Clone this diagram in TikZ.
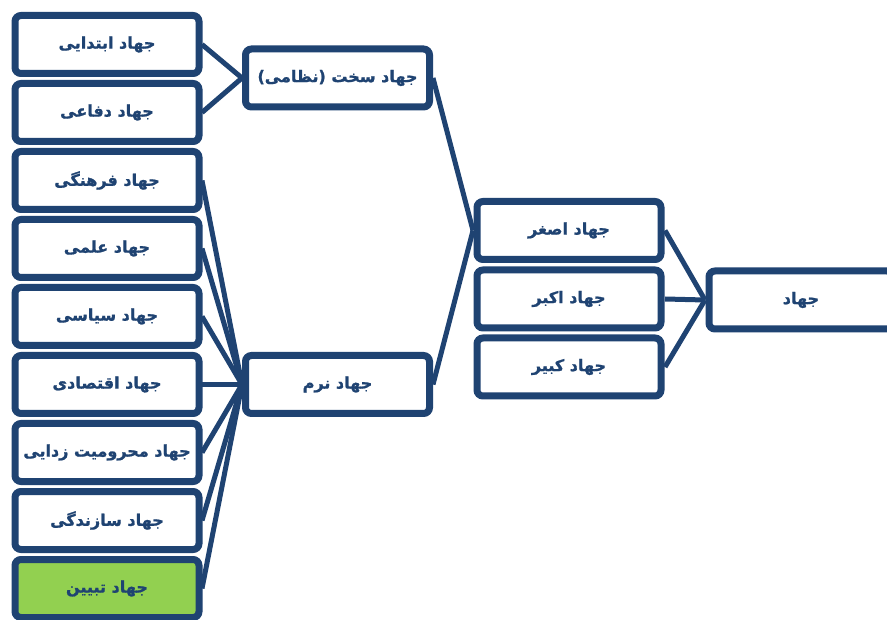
\documentclass[tikz,border=0pt]{standalone}
\usepackage{fontspec}
\newfontfamily\arabicfont[Script=Arabic,FakeBold=1.2]{DejaVu Sans Bold}
\TeXXeTstate=1
\usetikzlibrary{shadows}
\definecolor{navy}{HTML}{1F4372}
\definecolor{leaf}{HTML}{92D050}
\tikzset{
  box/.style={draw=navy, line width=7pt, rounded corners=6pt, fill=white,
    minimum width=184pt, minimum height=58pt, inner sep=0pt,
    text=navy, font=\arabicfont\fontsize{16}{19}\selectfont,
    drop shadow={opacity=0.25, shadow xshift=2pt, shadow yshift=-3pt}},
  link/.style={draw=navy, line width=5pt}
}
\newcommand{\rtl}[1]{\beginR #1\endR}
\begin{document}
\begin{tikzpicture}[x=1pt,y=-1pt]
\useasboundingbox (0,0) rectangle (887,620);
\clip (0,0) rectangle (887,620);
\fill[white] (0,0) rectangle (887,620);
% connectors first
\coordinate (hardL) at (242,78);
\coordinate (hardR) at (433,78);
\coordinate (softL) at (242,384.5);
\coordinate (softR) at (433,384.5);
\coordinate (smallL) at (473,230.5);
\coordinate (jL) at (705,300);
\coordinate (a1) at (202,44.5);
\coordinate (a2) at (202,112.5);
\coordinate (a3) at (202,180.5);
\coordinate (a4) at (202,248.5);
\coordinate (a5) at (202,316.5);
\coordinate (a6) at (202,384.5);
\coordinate (a7) at (202,452.5);
\coordinate (a8) at (202,520.5);
\coordinate (a9) at (202,588.5);
\coordinate (r1) at (665,230.5);
\coordinate (r2) at (665,299);
\coordinate (r3) at (665,367);
\foreach \i in {1,2} \draw[link] (a\i) -- (hardL);
\foreach \i in {3,...,9} \draw[link] (a\i) -- (softL);
\draw[link] (hardR) -- (smallL);
\draw[link] (softR) -- (smallL);
\foreach \i in {1,2,3} \draw[link] (r\i) -- (jL);
% nodes
\node[box] (n1) at (107,44.5) {\rtl{جهاد ابتدایی}};
\node[box] (n2) at (107,112.5) {\rtl{جهاد دفاعی}};
\node[box] (n3) at (107,180.5) {\rtl{جهاد فرهنگی}};
\node[box] (n4) at (107,248.5) {\rtl{جهاد علمی}};
\node[box] (n5) at (107,316.5) {\rtl{جهاد سیاسی}};
\node[box] (n6) at (107,384.5) {\rtl{جهاد اقتصادی}};
\node[box] (n7) at (107,452.5) {\rtl{جهاد محرومیت زدایی}};
\node[box] (n8) at (107,520.5) {\rtl{جهاد سازندگی}};
\node[box, fill=leaf] (n9) at (107,588.5) {\rtl{جهاد تبیین}};
\node[box] (hard) at (337.5,78) {\rtl{جهاد سخت (نظامی)}};
\node[box] (soft) at (337.5,384.5) {\rtl{جهاد نرم}};
\node[box] (small) at (569,230.5) {\rtl{جهاد اصغر}};
\node[box] (big) at (569,299) {\rtl{جهاد اکبر}};
\node[box] (great) at (569,367) {\rtl{جهاد کبیر}};
\node[box] (jihad) at (801,300) {\rtl{جهاد}};
\end{tikzpicture}
\end{document}
